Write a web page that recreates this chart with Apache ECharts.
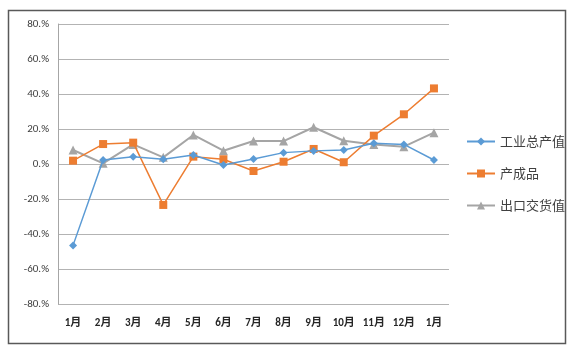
<!DOCTYPE html>
<html><head><meta charset="utf-8">
<script src="https://cdn.jsdelivr.net/npm/echarts@6/dist/echarts.min.js"></script>
<style>html,body{margin:0;padding:0;background:#fff}#c{width:577px;height:354px}</style>
</head><body><div id="c"></div>
<script>
const categories = ['1月','2月','3月','4月','5月','6月','7月','8月','9月','10月','11月','12月','1月'];
const seriesNames = ['工业总产值','产成品','出口交货值'];
const industrialOutput = [-46.5, 2.3, 4.2, 2.7, 5.1, -0.6, 2.9, 6.5, 7.5, 8.0, 11.8, 11.2, 2.3];
const finishedGoods = [1.9, 11.4, 12.2, -23.4, 4.2, 2.7, -4.0, 1.3, 8.6, 1.0, 16.2, 28.4, 43.2];
const exportValue = [8.0, 0.4, 11.2, 3.8, 16.6, 7.6, 13.1, 13.1, 21.0, 13.3, 11.2, 9.9, 17.9];
const yTicks = [-80, -60, -40, -20, 0, 20, 40, 60, 80];

const chart = echarts.init(document.getElementById('c'));
const font = 'Calibri, Carlito, "Noto Sans CJK SC", sans-serif';
chart.setOption({
  animation: false,
  graphic: [{
    type: 'rect', shape: {x: 8.5, y: 10.5, width: 557, height: 333},
    style: {fill: 'none', stroke: '#595959', lineWidth: 1.5}, z: -1
  }],
  grid: {left: 58, right: 128, top: 24, bottom: 50},
  legend: {
    orient: 'vertical', left: 461, top: 130, itemGap: 19,
    itemWidth: 28, itemHeight: 10,
    textStyle: {fontSize: 13, color: '#404040', fontFamily: '"Noto Sans CJK SC", sans-serif'},
    data: seriesNames
  },
  xAxis: {
    type: 'category', data: categories, boundaryGap: true,
    axisLine: {show: false}, axisTick: {show: false},
    axisLabel: {fontSize: 11, fontWeight: 'bold', color: '#262626', margin: 14, interval: 0,
      fontFamily: font}
  },
  yAxis: {
    type: 'value', min: yTicks[0], max: yTicks[yTicks.length-1], interval: 20,
    axisLine: {show: true, lineStyle: {color: '#A6A6A6', width: 1}},
    axisTick: {show: false},
    splitLine: {lineStyle: {color: '#B3B3B3', width: 1}},
    axisLabel: {fontSize: 11, color: '#404040', margin: 9, fontFamily: font,
      formatter: v => v + '.%'}
  },
  series: [
    {name: seriesNames[0], type: 'line', data: industrialOutput, symbol: 'diamond', symbolSize: 8,
      itemStyle: {color: '#5B9BD5'}, lineStyle: {width: 1.5, color: '#5B9BD5'}, z: 4},
    {name: seriesNames[1], type: 'line', data: finishedGoods, symbol: 'rect', symbolSize: 8,
      itemStyle: {color: '#ED7D31'}, lineStyle: {width: 1.5, color: '#ED7D31'}, z: 3},
    {name: seriesNames[2], type: 'line', data: exportValue, symbol: 'triangle', symbolSize: 9,
      itemStyle: {color: '#A5A5A5'}, lineStyle: {width: 2, color: '#A5A5A5'}, z: 2}
  ]
});
</script></body></html>
